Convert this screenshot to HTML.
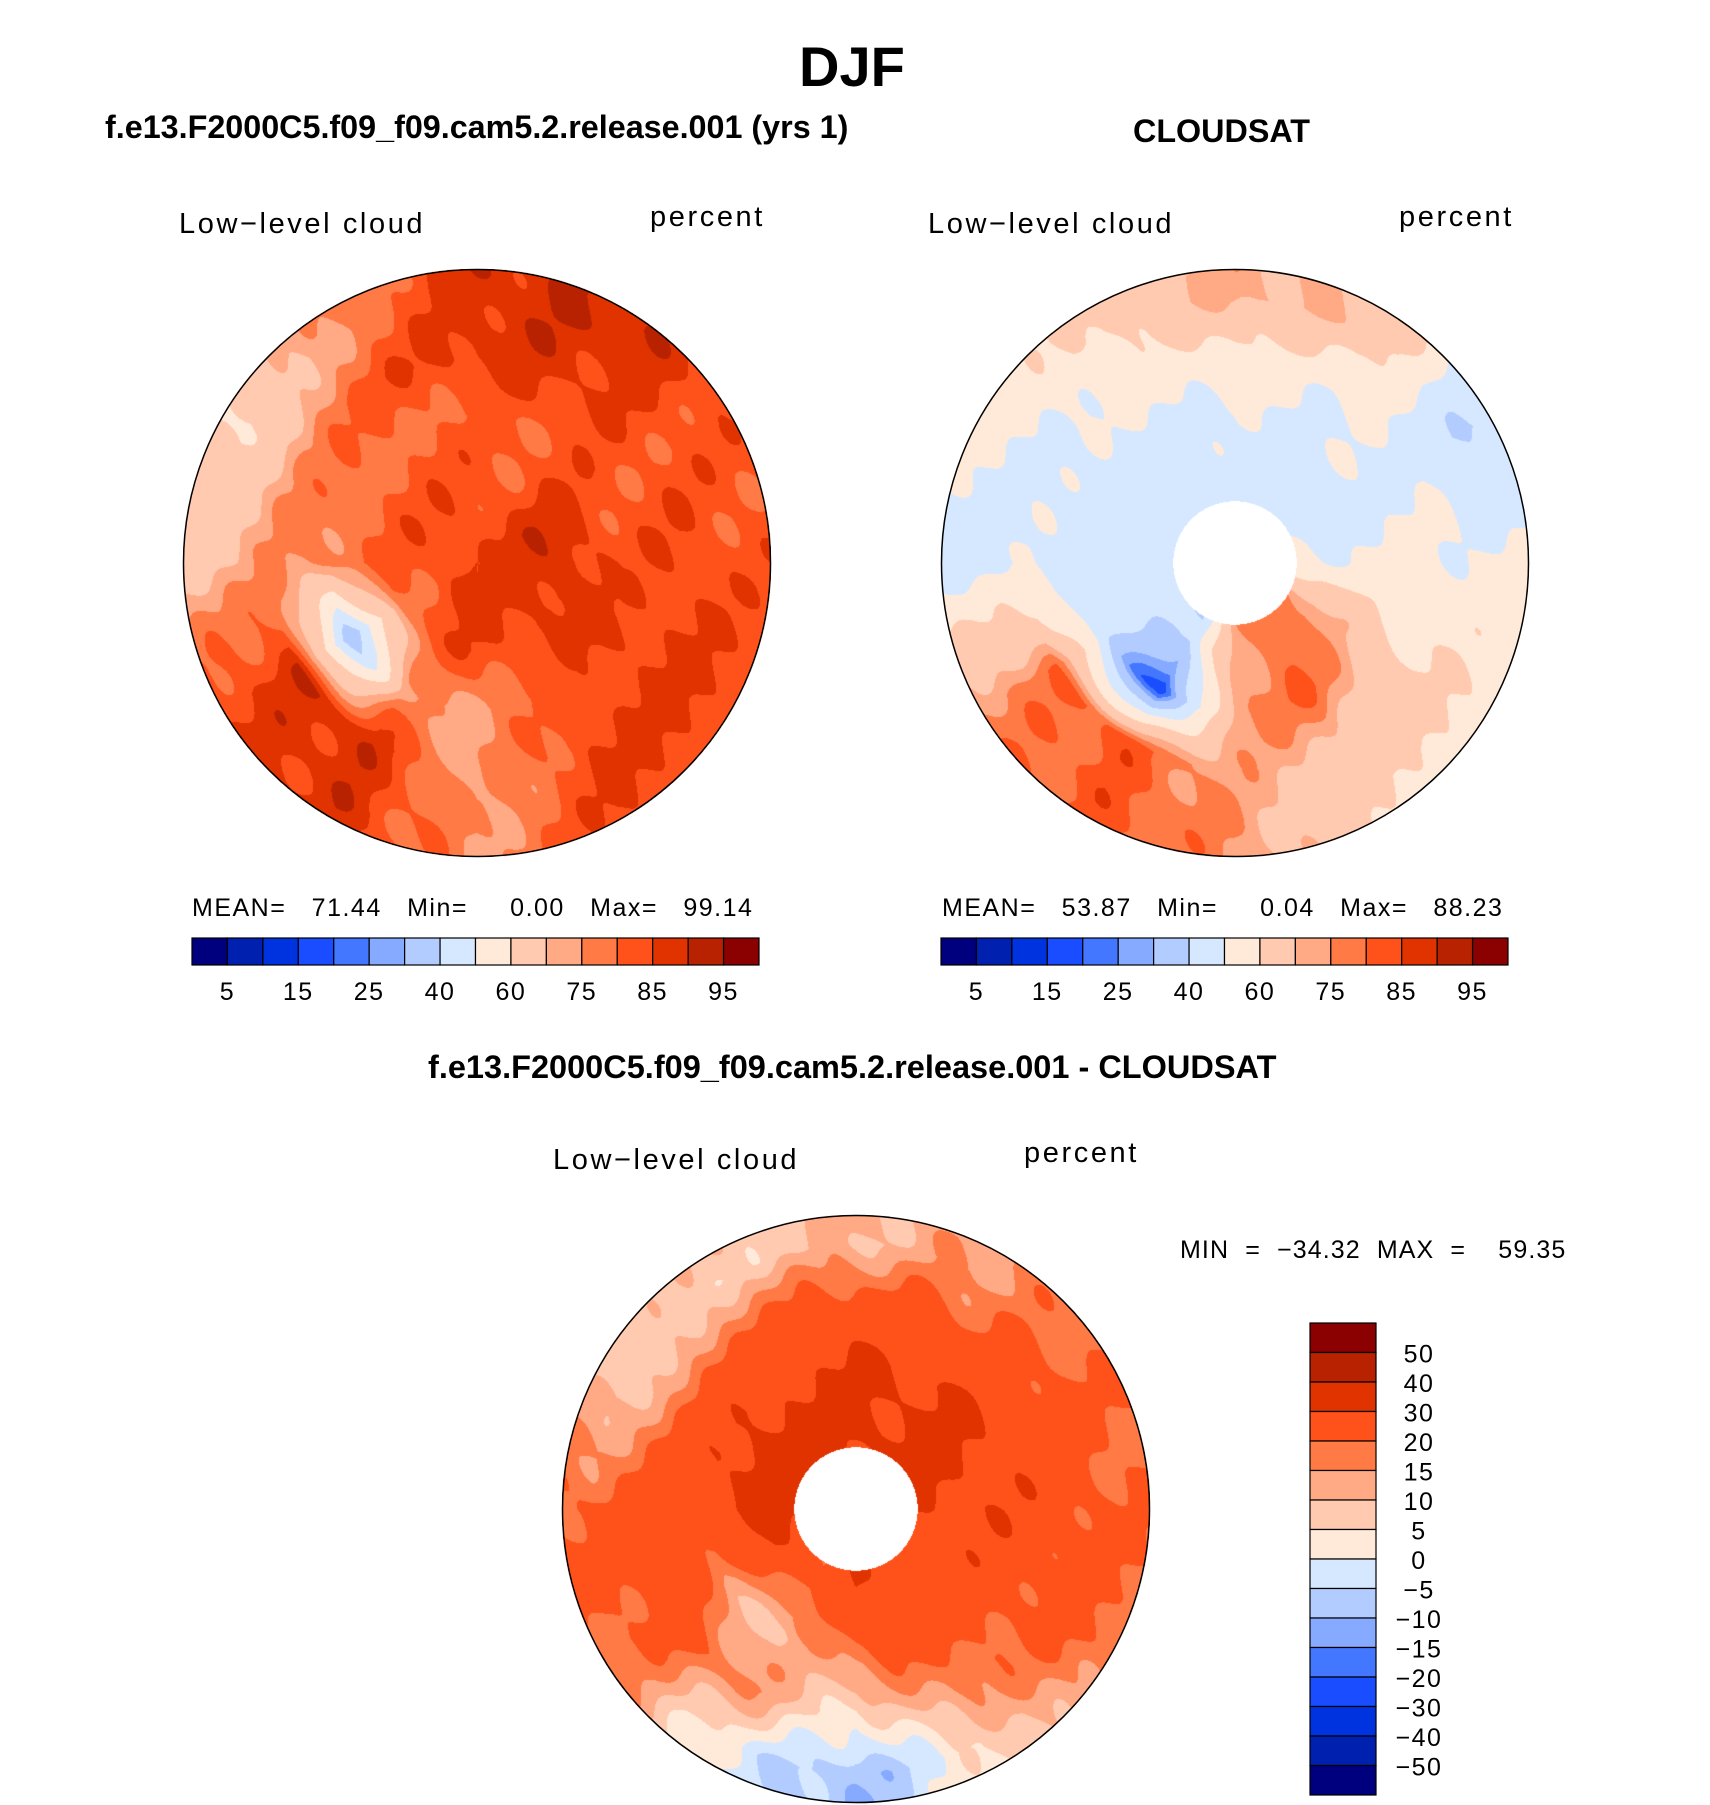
<!DOCTYPE html>
<html><head><meta charset="utf-8">
<style>
html,body{margin:0;padding:0;background:#fff;}
#page{position:relative;width:1710px;height:1805px;overflow:hidden;font-family:"Liberation Sans",sans-serif;color:#000;}
.t{position:absolute;white-space:nowrap;}
.b{font-weight:bold;}
.thin{font-size:29px;letter-spacing:2.6px;}
canvas{position:absolute;}
svg{position:absolute;left:0;top:0;}
</style></head>
<body>
<div id="page">
<div class="t b" style="left:799px;top:34px;font-size:56px;">DJF</div>
<div class="t b" style="left:105px;top:109px;font-size:32.3px;">f.e13.F2000C5.f09_f09.cam5.2.release.001 (yrs 1)</div>
<div class="t b" style="left:1133px;top:113px;font-size:32.3px;">CLOUDSAT</div>
<div class="t thin" style="left:179px;top:208px;">Low−level cloud</div>
<div class="t thin" style="left:650px;top:201px;">percent</div>
<div class="t thin" style="left:928px;top:208px;">Low−level cloud</div>
<div class="t thin" style="left:1399px;top:201px;">percent</div>
<div class="t thin" style="left:192px;top:894px;font-size:25px;letter-spacing:1.5px;white-space:pre;">MEAN=   71.44   Min=     0.00   Max=   99.14</div>
<div class="t thin" style="left:942px;top:894px;font-size:25px;letter-spacing:1.5px;white-space:pre;">MEAN=   53.87   Min=     0.04   Max=   88.23</div>
<div class="t b" style="left:428px;top:1049px;font-size:32.5px;">f.e13.F2000C5.f09_f09.cam5.2.release.001 - CLOUDSAT</div>
<div class="t thin" style="left:553px;top:1144px;">Low−level cloud</div>
<div class="t thin" style="left:1024px;top:1137px;">percent</div>
<div class="t thin" style="left:1180px;top:1236px;font-size:25px;letter-spacing:1.1px;white-space:pre;">MIN  =  −34.32  MAX  =    59.35</div>
<canvas id="c1" width="588" height="588" style="left:183px;top:269px;"></canvas>
<canvas id="c2" width="588" height="588" style="left:941px;top:269px;"></canvas>
<canvas id="c3" width="588" height="588" style="left:562px;top:1215px;"></canvas>
<svg id="ov" width="1710" height="1805"></svg>
</div>
<script>
const absColors=["#00007f","#0020b0","#0033e0","#1a4dff","#4477ff","#85aaff","#b3ccff","#d6e8ff","#ffead9","#ffcab0","#ffa985","#ff7a45","#ff511a","#e03300","#b82200","#8b0000"];
const absLevels=[5,10,15,20,25,30,40,50,60,70,75,80,85,90,95];
const absTickLabels=["5","15","25","40","60","75","85","95"];
const diffLevels=[-50,-40,-30,-20,-15,-10,-5,0,5,10,15,20,30,40,50];
const diffTickLabels=["50","40","30","20","15","10","5","0","−5","−10","−15","−20","−30","−40","−50"];
// rings (centre→edge) x sectors (clockwise from top, 30° each)
const modelVals=[
[85,86,86,85,86,86,86,88,85,84,84,85],
[82,82,88,90,88,85,85,80,78,80,82,82],
[80,82,82,82,85,80,75,72,30,78,78,80],
[88,86,82,85,86,85,72,88,88,74,75,82],
[88,90,82,82,85,85,74,88,85,68,58,76]];
const obsVals=[
[null,null,null,null,null,null,null,null,null,null,null,null],
[45,45,45,52,75,80,72,40,45,45,45,45],
[48,48,48,52,65,80,75,15,40,45,45,48],
[58,52,48,52,60,70,72,82,78,48,48,52],
[72,68,38,52,60,60,75,82,76,45,52,62]];
const diffVals=[
[null,null,null,null,null,null,null,null,null,null,null,null],
[32,32,32,30,28,25,30,20,30,32,35,32],
[30,30,30,28,25,22,20,8,12,30,30,30],
[25,22,25,25,22,18,2,15,25,25,18,20],
[10,15,20,20,20,5,-10,0,20,22,5,8]];

function colorFor(v,levels,colors){let i=0;while(i<levels.length&&v>=levels[i])i++;return colors[i];}
function hex(c){return [parseInt(c.substr(1,2),16),parseInt(c.substr(3,2),16),parseInt(c.substr(5,2),16)];}
function drawMap(id,vals,levels,colors,hole){
  const cv=document.getElementById(id),ctx=cv.getContext('2d'),N=cv.width,R=N/2;
  const img=ctx.createImageData(N,N),nr=vals.length,ns=vals[0].length;
  const get=(ri,si)=>{si=(si%ns+ns)%ns;ri=Math.max(0,Math.min(nr-1,ri));let v=vals[ri][si];if(v===null)v=vals[Math.min(nr-1,ri+1)][si];return v;};
  for(let y=0;y<N;y++)for(let x=0;x<N;x++){
    const dx=x-R+0.5,dy=y-R+0.5,r=Math.sqrt(dx*dx+dy*dy)/R;
    if(r>1||r<hole)continue;
    let a=Math.atan2(dx,-dy)*180/Math.PI;if(a<0)a+=360;
    const w=2.5*Math.sin(x*0.05+y*0.035)+1.5*Math.sin(x*0.11-y*0.09);
    const rf=r*nr-0.5,sf=a/30;
    const r0=Math.floor(rf),s0=Math.floor(sf),fr=rf-r0,fs=sf-s0;
    const v=(get(r0,s0)*(1-fs)+get(r0,s0+1)*fs)*(1-fr)+(get(r0+1,s0)*(1-fs)+get(r0+1,s0+1)*fs)*fr+w;
    const c=hex(colorFor(v,levels,colors)),k=(y*N+x)*4;
    img.data[k]=c[0];img.data[k+1]=c[1];img.data[k+2]=c[2];img.data[k+3]=255;
  }
  ctx.putImageData(img,0,0);
}
drawMap('c1',modelVals,absLevels,absColors,0);
drawMap('c2',obsVals,absLevels,absColors,0.21);
drawMap('c3',diffVals,diffLevels,absColors,0.21);

const NS="http://www.w3.org/2000/svg",ov=document.getElementById('ov');
function mk(tag,attrs){const e=document.createElementNS(NS,tag);for(const k in attrs)e.setAttribute(k,attrs[k]);ov.appendChild(e);return e;}
[[477,563],[1235,563],[856,1509]].forEach(function(p){
  const c=mk('circle',{cx:p[0],cy:p[1],r:293.5,fill:'none',stroke:'#000','stroke-width':1.5});
  
  
});
function hbar(x0,y0,w,h){
  const bw=w/absColors.length;
  absColors.forEach(function(col,i){
    const r=mk('rect',{x:x0+i*bw,y:y0,width:bw,height:h,fill:col,stroke:'#000','stroke-width':1.2});
    
    
  });
  absTickLabels.forEach(function(t,j){
    const tx=mk('text',{x:x0+(2*j+1)*bw,y:y0+h+35,'text-anchor':'middle','font-size':25,'font-family':'Liberation Sans, sans-serif','letter-spacing':1.5});
    tx.textContent=t;
    
    
  });
}
hbar(192,938,567,27);
hbar(941,938,567,27);
(function(){
  const x0=1310,y0=1323,w=66,h=472,bh=h/absColors.length;
  absColors.slice().reverse().forEach(function(col,i){
    const r=mk('rect',{x:x0,y:y0+i*bh,width:w,height:bh,fill:col,stroke:'#000','stroke-width':1.2});
    
    
  });
  diffTickLabels.forEach(function(t,j){
    const tx=mk('text',{x:x0+w+43,y:y0+(j+1)*bh+10,'text-anchor':'middle','font-size':25,'font-family':'Liberation Sans, sans-serif','letter-spacing':1.5});
    tx.textContent=t;
    
    
  });
})();
</script>
</body></html>
